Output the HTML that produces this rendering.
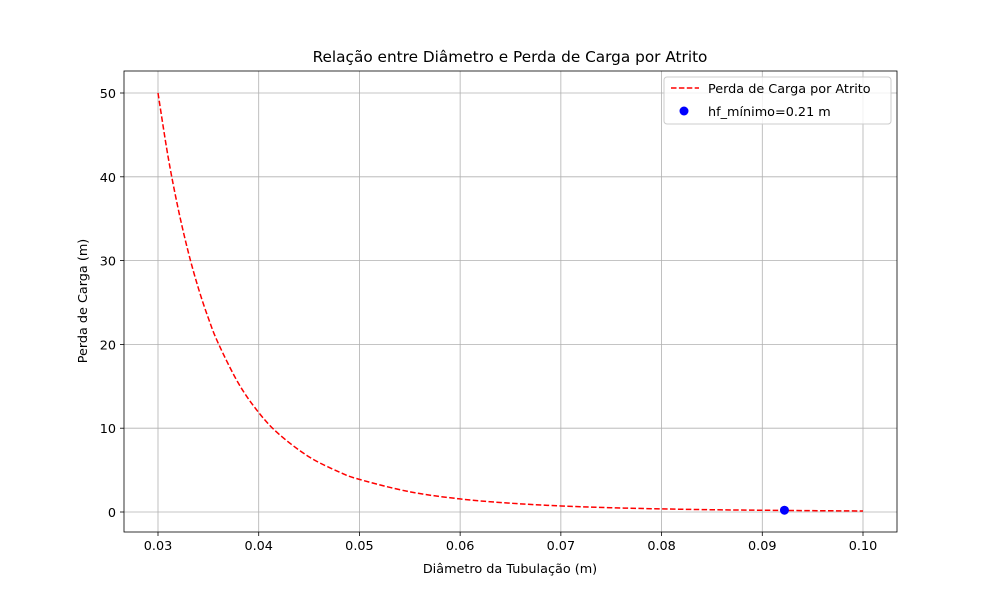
<!DOCTYPE html>
<html><head><meta charset="utf-8"><style>
body{margin:0;background:#fff}
svg text{font-family:"DejaVu Sans","Liberation Sans",sans-serif;fill:#000}
</style></head><body>
<svg id="chart" width="996" height="595" xmlns="http://www.w3.org/2000/svg">
<rect width="996" height="595" fill="#fff"/>
<g id="grid"></g><g id="plot"></g><g id="axes"></g>
<text x="510" y="62" text-anchor="middle" font-size="15.3">Relação entre Diâmetro e Perda de Carga por Atrito</text>
<text x="510" y="573" text-anchor="middle" font-size="12.8">Diâmetro da Tubulação (m)</text>
<text transform="translate(87,301) rotate(-90)" text-anchor="middle" font-size="12.8">Perda de Carga (m)</text>
<g>
<rect x="664" y="77" width="227" height="47" rx="3" fill="#fff" fill-opacity="0.8" stroke="#ccc"/>
<line x1="671" y1="88" x2="699" y2="88" stroke="red" stroke-width="1.5" stroke-dasharray="5.5,2.4"/>
<text x="708" y="93" font-size="12.8">Perda de Carga por Atrito</text>
<circle cx="684" cy="111" r="4.5" fill="blue"/>
<text x="708" y="116" font-size="12.8">hf_mínimo=0.21 m</text>
</g>
</svg>
<script>
const diameters=[0.030,0.031,0.032,0.033,0.034,0.035,0.036,0.038,0.040,0.042,0.045,0.048,0.050,0.055,0.060,0.065,0.070,0.075,0.080,0.085,0.090,0.095,0.100];
const headLoss=[50,42.4,36.21,31.05,26.74,23.13,20.09,15.33,11.87,9.30,6.58,4.77,3.89,2.41,1.56,1.05,0.72,0.51,0.37,0.27,0.21,0.16,0.12];
const minPointX=[0.0922];
const minPointY=[0.21];
const xTicks=[0.03,0.04,0.05,0.06,0.07,0.08,0.09,0.10];
const xTickLabels=["0.03","0.04","0.05","0.06","0.07","0.08","0.09","0.10"];
const yTicks=[0,10,20,30,40,50];
const yTickLabels=["0","10","20","30","40","50"];

const L=124,R=897,T=71,B=532;
const xs=v=>158+(v-0.03)*(863-158)/0.07;
const ys=v=>512-v*(512-93)/50;
const NS="http://www.w3.org/2000/svg";
function mk(tag,attrs,parent){const e=document.createElementNS(NS,tag);for(const k in attrs)e.setAttribute(k,attrs[k]);parent.appendChild(e);return e;}
const grid=document.getElementById('grid'),plot=document.getElementById('plot'),axes=document.getElementById('axes');
xTicks.forEach((t,i)=>{
 const x=xs(t);
 const g=mk('line',{x1:x,x2:x,y1:T,y2:B,stroke:'#b0b0b0','stroke-width':0.8},grid);
 
 
 mk('line',{x1:x,x2:x,y1:B,y2:B+4,stroke:'#000','stroke-width':0.8},axes);
 const tx=mk('text',{x:x,y:B+18,'text-anchor':'middle','font-size':12.8},axes);
 tx.textContent=xTickLabels[i];
 
 
});
yTicks.forEach((t,i)=>{
 const y=ys(t);
 const g=mk('line',{x1:L,x2:R,y1:y,y2:y,stroke:'#b0b0b0','stroke-width':0.8},grid);
 
 
 mk('line',{x1:L-4,x2:L,y1:y,y2:y,stroke:'#000','stroke-width':0.8},axes);
 const tx=mk('text',{x:L-8,y:y+5,'text-anchor':'end','font-size':12.8},axes);
 tx.textContent=yTickLabels[i];
 
 
});
const frame=mk('rect',{x:L,y:T,width:R-L,height:B-T,fill:'none',stroke:'#000','stroke-width':0.8},axes);


const pts=diameters.map((v,i)=>[xs(v),ys(headLoss[i])]);
let d='M'+pts[0][0].toFixed(2)+','+pts[0][1].toFixed(2);
for(let i=0;i<pts.length-1;i++){
 const p0=pts[Math.max(0,i-1)],p1=pts[i],p2=pts[i+1],p3=pts[Math.min(pts.length-1,i+2)];
 const c1=[p1[0]+(p2[0]-p0[0])/6,p1[1]+(p2[1]-p0[1])/6];
 const c2=[p2[0]-(p3[0]-p1[0])/6,p2[1]-(p3[1]-p1[1])/6];
 d+='C'+c1[0].toFixed(2)+','+c1[1].toFixed(2)+' '+c2[0].toFixed(2)+','+c2[1].toFixed(2)+' '+p2[0].toFixed(2)+','+p2[1].toFixed(2);
}
const line=mk('path',{d:d,fill:'none',stroke:'red','stroke-width':1.5,'stroke-dasharray':'5.5,2.4'},plot);


minPointX.forEach((v,i)=>{
 const c=mk('circle',{cx:xs(v),cy:ys(minPointY[i]),r:4.5,fill:'blue'},plot);
 
 
});
</script>
</body></html>
